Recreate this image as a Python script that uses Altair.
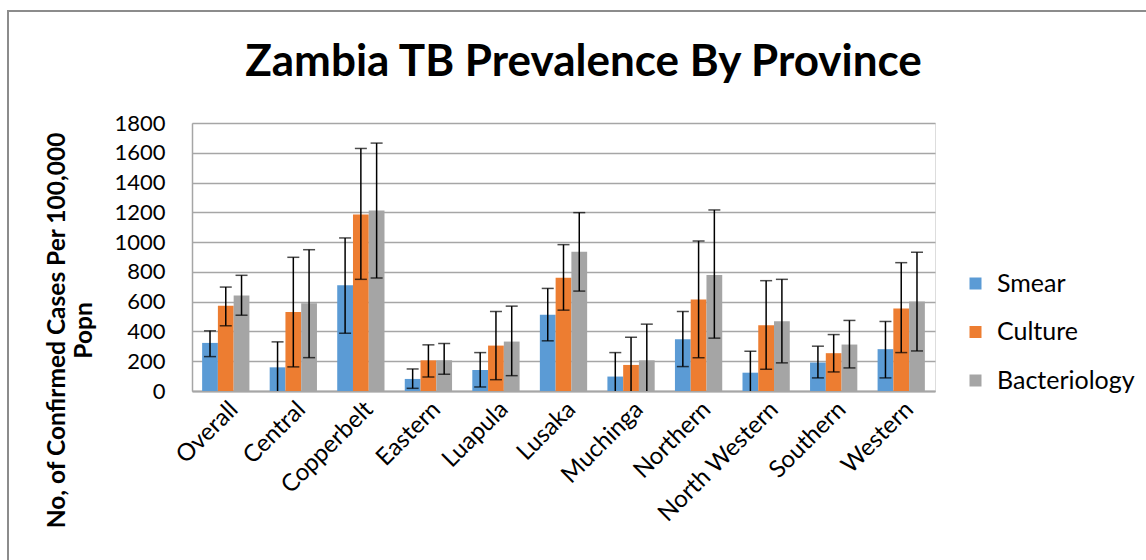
import altair as alt
import pandas as pd

provinces = ["Overall", "Central", "Copperbelt", "Eastern", "Luapula", "Lusaka",
             "Muchinga", "Northern", "North Western", "Southern", "Western"]
series = ["Smear", "Culture", "Bacteriology"]
colors = ["#5B9BD5", "#ED7D31", "#A5A5A5"]
y_ticks = [0, 200, 400, 600, 800, 1000, 1200, 1400, 1600, 1800]

smear = [323, 159, 711, 81, 141, 512, 97, 348, 123, 191, 281]
smear_lo = [231, -30, 388, 18, 27, 337, -30, 164, -30, 88, 88]
smear_hi = [404, 330, 1028, 148, 258, 689, 258, 534, 267, 301, 467]

culture = [572, 530, 1185, 206, 305, 761, 175, 615, 442, 254, 554]
culture_lo = [438, 162, 750, 94, 76, 543, -30, 224, 146, 128, 258]
culture_hi = [698, 898, 1629, 310, 534, 983, 361, 1008, 741, 379, 862]

bact = [642, 590, 1212, 206, 332, 936, 206, 779, 469, 312, 601]
bact_lo = [509, 224, 759, 112, 103, 671, -30, 355, 189, 155, 269]
bact_hi = [777, 949, 1665, 319, 570, 1198, 449, 1216, 750, 474, 932]

rows = []
for s, vals, los, his in [("Smear", smear, smear_lo, smear_hi),
                          ("Culture", culture, culture_lo, culture_hi),
                          ("Bacteriology", bact, bact_lo, bact_hi)]:
    for p, v, lo, hi in zip(provinces, vals, los, his):
        rows.append({"Province": p, "Series": s, "Value": v, "Lo": lo, "Hi": hi})
df = pd.DataFrame(rows)

FONT = "Lato"

x_axis = alt.Axis(title=None, labelAngle=-45, labelFontSize=24,
                  labelFont=FONT, labelColor="#000000", ticks=False,
                  domainColor="#A6A6A6", domainWidth=2, labelPadding=6)
x_scale = alt.Scale(paddingInner=0.3, paddingOuter=0.15)
xoff = alt.XOffset("Series:N", sort=series, scale=alt.Scale(paddingInner=0))
y_scale = alt.Scale(domain=[0, 1800], nice=False)
y_axis = alt.Axis(title=["No, of Confirmed Cases Per 100,000", "Popn"],
                  titleFont=FONT, titleFontSize=24.5, titleFontWeight="bold",
                  titleColor="#000000", titleX=-135, titleY=207,
                  titleAngle=-90, titleAlign="center", titleBaseline="middle",
                  titleLineHeight=27,
                  values=y_ticks, format="d", tickCount=10,
                  labelOverlap=False, labelFont=FONT,
                  labelFontSize=22, labelColor="#000000", labelPadding=27,
                  ticks=False, domainColor="#A6A6A6", domainWidth=1.5,
                  gridColor="#A6A6A6", gridWidth=1.5)

def xe():
    return alt.X("Province:N", sort=provinces, scale=x_scale, axis=x_axis)

base = alt.Chart(df)

bars = base.mark_bar().encode(
    x=xe(),
    xOffset=xoff,
    y=alt.Y("Value:Q", scale=y_scale, axis=y_axis),
    color=alt.Color("Series:N", sort=series,
                    scale=alt.Scale(domain=series, range=colors),
                    legend=alt.Legend(title=None, orient="none", legendX=771,
                                      legendY=148, symbolType="square",
                                      symbolSize=144, symbolStrokeWidth=0,
                                      labelFont=FONT, labelFontSize=25,
                                      labelColor="#000000", rowPadding=22.5,
                                      labelOffset=9)),
)

rules = base.mark_rule(color="#000000", strokeWidth=1.5, clip=True).encode(
    x=xe(),
    xOffset=xoff,
    y=alt.Y("Lo:Q", scale=y_scale, axis=y_axis),
    y2="Hi:Q",
)

caps_hi = base.mark_tick(color="#000000", thickness=1.5, size=12, clip=True).encode(
    x=xe(),
    xOffset=xoff,
    y=alt.Y("Hi:Q", scale=y_scale, axis=y_axis),
)
caps_lo = base.mark_tick(color="#000000", thickness=1.5, size=12, clip=True).encode(
    x=xe(),
    xOffset=xoff,
    y=alt.Y("Lo:Q", scale=y_scale, axis=y_axis),
)

border = alt.Chart(pd.DataFrame({"a": [0]})).mark_rect(
    fill=None, stroke="#8C8C8C", strokeWidth=2).encode(
    x=alt.value(-184), x2=alt.value(990), y=alt.value(-112), y2=alt.value(460))

chart = alt.layer(border, bars, rules, caps_hi, caps_lo).properties(
    width=743, height=268,
    title=alt.Title("Zambia TB Prevalence By Province", font=FONT, fontSize=44,
                    fontWeight="bold", color="#000000", anchor="middle",
                    baseline="alphabetic", offset=-110, dx=20),
    autosize=alt.AutoSizeParams(type="none"),
    padding={"left": 192, "top": 123, "right": 211, "bottom": 169},
).configure_view(stroke=None).configure(background="#FFFFFF")

chart.save("out.html", embed_options={"renderer": "svg", "actions": False})
